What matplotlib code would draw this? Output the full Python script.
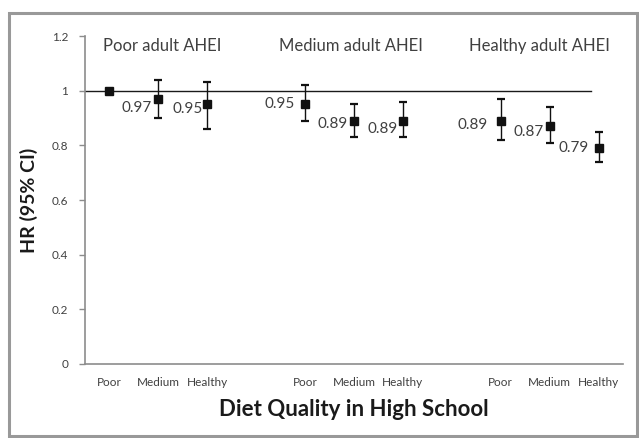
import matplotlib
matplotlib.use("Agg")
import matplotlib.pyplot as plt
from matplotlib.patches import Rectangle

# ---- data ----
adult_groups = ["Poor adult AHEI", "Medium adult AHEI", "Healthy adult AHEI"]
hs_levels = ["Poor", "Medium", "Healthy"]
hr = [1.00, 0.97, 0.95, 0.95, 0.89, 0.89, 0.89, 0.87, 0.79]
ci_low = [1.00, 0.90, 0.86, 0.89, 0.83, 0.83, 0.82, 0.81, 0.74]
ci_high = [1.00, 1.04, 1.03, 1.02, 0.95, 0.96, 0.97, 0.94, 0.85]
point_labels = ["", "0.97", "0.95", "0.95", "0.89", "0.89", "0.89", "0.87", "0.79"]
y_ticks = [0, 0.2, 0.4, 0.6, 0.8, 1, 1.2]
y_tick_labels = ["0", "0.2", "0.4", "0.6", "0.8", "1", "1.2"]
reference_hr = 1.0

# ---- layout / style ----
W, H = 639, 438
label_offsets = [(0, 0), (-7, -9), (-5, -5), (-10, 0), (-6, -3), (-5, -8), (-13, -4), (-6, -6), (-10, 0)]
title_shift = [0.08, -0.07, -0.2]
FONT = ["Lato", "DejaVu Sans"]
TXT = "#404040"
AXC = "#8c8c8c"

plt.rcParams["font.family"] = FONT

fig = plt.figure(figsize=(W / 100, H / 100), dpi=100)
ax = fig.add_axes([85 / W, (H - 364) / H, (623 - 85) / W, (364 - 36) / H])

n_levels = len(hs_levels)
slot = n_levels + 1
xs = []
for g in range(len(adult_groups)):
    for l in range(n_levels):
        xs.append(g * slot + l)

yerr = [[h - lo for h, lo in zip(hr, ci_low)], [hi - h for h, hi in zip(hr, ci_high)]]

# reference line
ax.plot([-0.5, xs[-1] - 0.15], [reference_hr, reference_hr], color="#1a1a1a", lw=1.0, zorder=2)

ax.errorbar(xs, hr, yerr=yerr, fmt="s", color="#111111", ecolor="#111111",
            elinewidth=1.0, capsize=3.2, capthick=1.6, markersize=5.2, zorder=3)

for x, y, t, (dx, dy) in zip(xs, hr, point_labels, label_offsets):
    if t:
        ax.annotate(t, (x, y), xytext=(dx, dy), textcoords="offset pixels",
                    ha="right", va="center", fontsize=11, color=TXT)

for g, name in enumerate(adult_groups):
    ax.text(g * slot + 1 + title_shift[g], 1.165, name, ha="center", va="center",
            fontsize=12, color=TXT)

ax.set_xlim(-0.5, len(adult_groups) * slot - 1.5)
ax.set_ylim(0, 1.2)
ax.set_yticks(y_ticks)
ax.set_yticklabels(y_tick_labels)
ax.set_xticks(xs)
ax.set_xticklabels(hs_levels * len(adult_groups))
ax.tick_params(axis="x", length=0, pad=9, labelsize=8.5, labelcolor=TXT)
ax.tick_params(axis="y", length=4, width=1, color=AXC, labelsize=8.5, labelcolor=TXT, pad=8)

for s in ["top", "right"]:
    ax.spines[s].set_visible(False)
for s in ["left", "bottom"]:
    ax.spines[s].set_color(AXC)
    ax.spines[s].set_linewidth(1.2)

ax.set_ylabel("HR (95% CI)", fontsize=14, fontweight="bold", color="#1a1a1a", labelpad=10)
ax.set_xlabel("Diet Quality in High School", fontsize=16, fontweight="bold", color="#1a1a1a", labelpad=8)

# outer gray frame
fig.patches.append(Rectangle((8.5 / W, (H - 435.5) / H), (636.5 - 8.5) / W, (435.5 - 12.5) / H,
                             transform=fig.transFigure, fill=False, edgecolor="#999999",
                             linewidth=2.2, zorder=0))

fig.savefig("out.png", dpi=100)
